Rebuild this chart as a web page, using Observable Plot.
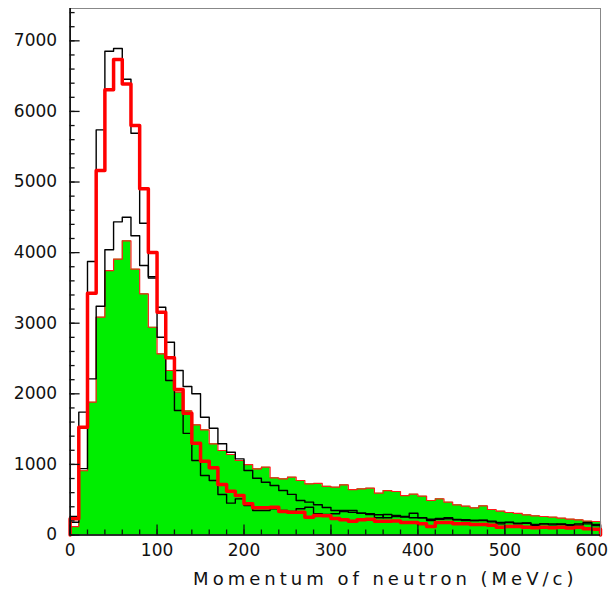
<!DOCTYPE html>
<html><head><meta charset="utf-8">
<script src="https://cdn.jsdelivr.net/npm/d3@7"></script>
<script src="https://cdn.jsdelivr.net/npm/@observablehq/plot@0.6"></script>
<style>body{margin:0;background:#fff}</style>
</head><body><div id="chart"></div>
<script>
// Histogram bins: 10 MeV/c wide, 0 .. 610
const binWidth = 10;
const binStarts = d3.range(0, 610, binWidth);

// Thin black histogram (tallest peak)
const blackTall = [262,1740,3874,5739,6853,6891,6456,5691,4416,3660,2802,2188,1763,1440,1055,843,772,574,451,512,418,347,347,371,347,333,371,394,300,290,300,333,320,309,290,244,290,276,262,309,244,205,234,244,220,215,205,205,186,158,177,158,172,130,158,144,158,135,158,177,149];
// Thick red histogram
const redThick = [229,1527,3425,5163,6306,6735,6390,5800,4904,4001,3156,2510,2060,1725,1300,1045,952,715,620,559,442,385,385,394,333,323,323,252,276,271,234,215,196,215,224,196,196,200,177,177,158,120,177,177,160,158,149,149,139,111,120,120,111,102,111,102,111,98,111,90,80];
// Thin black histogram (lower peak, long tail)
const blackLow = [180,940,2212,3241,4040,4436,4502,4238,3817,3640,3227,2731,2330,2103,2000,1669,1513,1292,1173,1079,914,803,748,701,630,575,489,465,428,390,347,347,347,309,300,286,244,262,255,244,244,224,224,230,215,205,205,210,196,177,180,167,167,149,158,158,149,145,140,158,135];
// Green filled histogram (red outline)
const greenFill = [120,910,1881,3085,3746,3907,4167,3765,3416,2943,2567,2330,2023,1760,1560,1490,1292,1197,1140,1055,998,937,961,810,796,819,772,725,730,690,677,711,644,654,663,592,630,616,559,578,550,489,512,465,428,408,385,413,361,337,319,305,286,271,262,252,238,224,215,196,191];

const xLabelTicks = [0,100,200,300,400,500,600];
const xMinorTicks = d3.range(0, 601, 20);
const yLabelTicks = [0,1000,2000,3000,4000,5000,6000,7000];
const yMinorTicks = d3.range(0, 7401, 200);
const xTitle = "Momentum of neutron (MeV/c)";

function steps(vals) {
  const pts = [{x: binStarts[0], y: 0}];
  vals.forEach((v, i) => pts.push({x: binStarts[i], y: v}));
  const last = binStarts[vals.length - 1] + binWidth;
  pts.push({x: last, y: vals[vals.length - 1]});
  pts.push({x: last, y: 0});
  return pts;
}

const chart = Plot.plot({
  width: 610, height: 596,
  marginLeft: 69.6, marginRight: 10, marginTop: 8, marginBottom: 61.5,
  x: {domain: [0, 610], axis: null},
  y: {domain: [0, 7458], axis: null},
  style: {fontFamily: "DejaVu Sans", fontSize: "17px", color: "#111", background: "#fff"},
  marks: [
    Plot.areaY(steps(greenFill), {x: "x", y: "y", curve: "step-after", fill: "#00ee00"}),
    Plot.line(steps(greenFill), {x: "x", y: "y", curve: "step-after", stroke: "#ff1a1a", strokeWidth: 1.2}),
    Plot.line(steps(blackLow), {x: "x", y: "y", curve: "step-after", stroke: "#000", strokeWidth: 1.4}),
    Plot.line(steps(blackTall), {x: "x", y: "y", curve: "step-after", stroke: "#000", strokeWidth: 1.4}),
    Plot.line(steps(redThick), {x: "x", y: "y", curve: "step-after", stroke: "#ff0000", strokeWidth: 3.5}),
    Plot.frame({stroke: "#888", strokeWidth: 1}),
    Plot.ruleX([0], {stroke: "#000", strokeWidth: 1.6}),
    Plot.ruleY([0], {stroke: "#000", strokeWidth: 1.6}),
    Plot.axisY(yMinorTicks, {tickSize: -5, tickFormat: () => "", label: null, strokeWidth: 1.3}),
    Plot.axisY(yLabelTicks, {tickSize: -10, tickFormat: () => "", label: null, strokeWidth: 1.3}),
    Plot.axisY(yLabelTicks, {tickSize: 0, tickPadding: 13, tickFormat: "d", label: null, fontSize: 17}),
    Plot.axisX(xMinorTicks, {tickSize: -5, tickFormat: () => "", label: null, strokeWidth: 1.3}),
    Plot.axisX(xLabelTicks, {tickSize: -10, tickFormat: () => "", label: null, strokeWidth: 1.3}),
    Plot.axisX(xLabelTicks, {tickSize: 0, tickPadding: 9, tickFormat: "d", label: null, fontSize: 17}),
    Plot.text([xTitle], {frameAnchor: "bottom", dx: 50, dy: 50, fontSize: 18, fill: "#111", className: "xtitle"})
  ]
});
document.getElementById("chart").appendChild(chart);
chart.querySelectorAll(".xtitle text, g.xtitle text").forEach(t => t.setAttribute("letter-spacing", "4"));
</script>
</body></html>
